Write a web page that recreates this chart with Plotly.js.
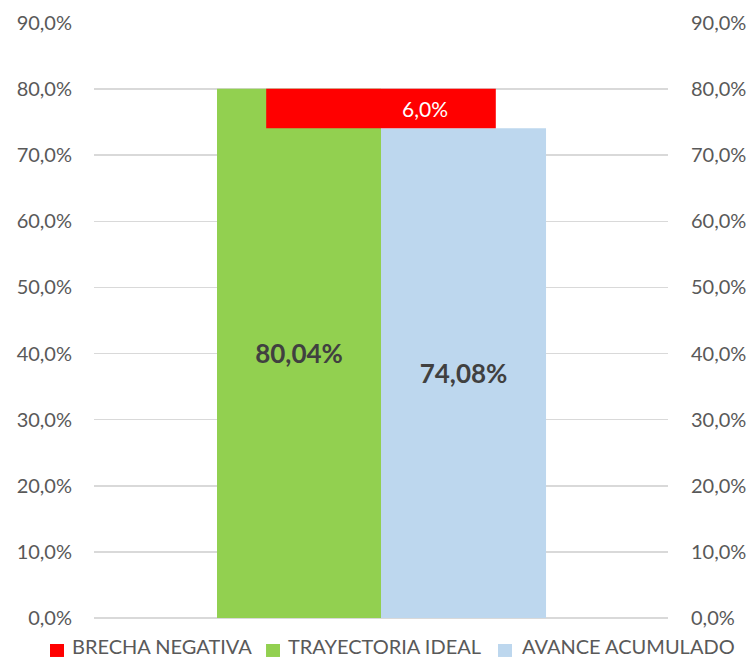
<!DOCTYPE html>
<html><head><meta charset="utf-8">
<script src="https://cdn.plot.ly/plotly-3.0.1.min.js"></script>
<style>html,body{margin:0;padding:0;background:#fff}</style>
</head><body>
<div id="chart" style="width:752px;height:661px"></div>
<script>
const categories = ["Avance"];
const seriesNames = ["BRECHA NEGATIVA", "TRAYECTORIA IDEAL", "AVANCE ACUMULADO"];
const seriesColors = ["#ff0000", "#92d050", "#bdd7ee"];
const ideal = [80.04];
const avance = [74.08];
const brecha = [5.96];
const tickVals = [0,10,20,30,40,50,60,70,80,90];

const fmt = (v, d) => v.toFixed(d).replace('.', ',') + '%';
const font = "Lato, 'Open Sans', sans-serif";

const traces = [
  {
    type: 'bar', name: seriesNames[0], x: categories, y: brecha, base: avance,
    offset: -0.2, width: 0.4, marker: {color: seriesColors[0]},
    textposition: 'none', hoverinfo: 'none', yaxis: 'y2'
  },
  {
    type: 'bar', name: seriesNames[1], x: categories, y: ideal,
    offset: -0.2857, width: 0.2857, marker: {color: seriesColors[1]},
    text: ideal.map(v => fmt(v, 2)), textposition: 'inside', insidetextanchor: 'middle',
    textangle: 0, textfont: {family: font, size: 26, color: '#404040', weight: 'bold'},
    hoverinfo: 'none'
  },
  {
    type: 'bar', name: seriesNames[2], x: categories, y: avance,
    offset: 0, width: 0.2875, marker: {color: seriesColors[2]},
    text: avance.map(v => fmt(v, 2)), textposition: 'inside', insidetextanchor: 'middle',
    textangle: 0, textfont: {family: font, size: 26, color: '#404040', weight: 'bold'},
    hoverinfo: 'none'
  }
];

const axisCommon = {
  range: [0, 90], tickvals: tickVals, ticktext: tickVals.map(v => fmt(v, 1)),
  tickfont: {family: font, size: 20, color: '#595959'}, ticks: '', showline: false,
  fixedrange: true
};

// manual legend (square + label) below the plot, in paper coordinates
const legendItems = [
  {sq: [-0.0767, -0.0523], tx: -0.0418},
  {sq: [0.2997, 0.3240], tx: 0.3345},
  {sq: [0.7038, 0.7282], tx: 0.7422}
];
const shapes = legendItems.map((it, i) => ({
  type: 'rect', xref: 'paper', yref: 'paper',
  x0: it.sq[0], x1: it.sq[1], y0: -0.0655, y1: -0.0437,
  fillcolor: seriesColors[i], line: {width: 0}
}));
const legendTexts = legendItems.map((it, i) => ({
  xref: 'paper', yref: 'paper', x: it.tx, y: -0.0471,
  xanchor: 'left', yanchor: 'middle', showarrow: false,
  text: seriesNames[i], font: {family: font, size: 20, color: '#595959'}
}));

const layout = {
  width: 752, height: 661,
  margin: {l: 94, r: 84, t: 23, b: 43, autoexpand: false},
  paper_bgcolor: '#fff', plot_bgcolor: '#fff',
  barmode: 'overlay', showlegend: false,
  font: {family: font, color: '#595959'},
  xaxis: {range: [-0.5, 0.5], showticklabels: false, showgrid: false, zeroline: false, showline: false, ticks: ''},
  yaxis: Object.assign({}, axisCommon, {showgrid: true, gridcolor: '#d9d9d9', gridwidth: 1.5, zeroline: true, zerolinecolor: '#d9d9d9', zerolinewidth: 1.5, ticklabelstandoff: 21}),
  yaxis2: Object.assign({}, axisCommon, {overlaying: 'y', side: 'right', showgrid: false, zeroline: false, ticklabelstandoff: 22}),
  shapes: shapes,
  annotations: [{
    xref: 'x', yref: 'y', x: 0.0767, y: avance[0] + brecha[0] / 2,
    text: fmt(brecha[0], 1), showarrow: false,
    font: {family: font, size: 21, color: '#ffffff'}
  }].concat(legendTexts)
};

Plotly.newPlot('chart', traces, layout, {displayModeBar: false, staticPlot: true});
</script>
</body></html>
